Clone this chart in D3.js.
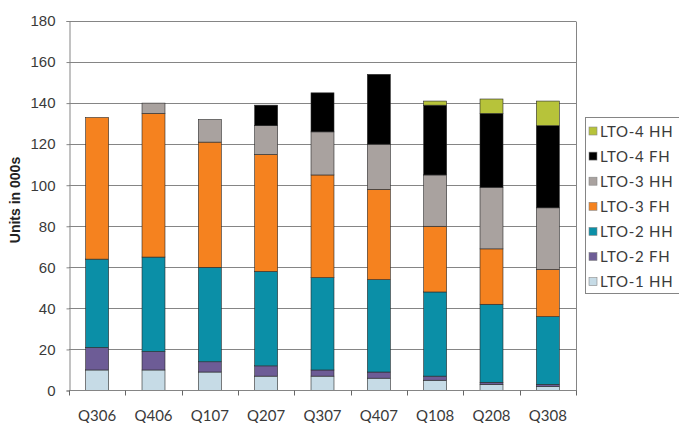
<!DOCTYPE html>
<html><head><meta charset="utf-8">
<script src="https://cdn.jsdelivr.net/npm/d3@7"></script>
<style>body{margin:0;background:#fff}svg{display:block}</style>
</head><body>
<svg id="c" width="679" height="423"></svg>
<script>
const categories = ["Q306","Q406","Q107","Q207","Q307","Q407","Q108","Q208","Q308"];
const seriesNames = ["LTO-1 HH","LTO-2 FH","LTO-2 HH","LTO-3 FH","LTO-3 HH","LTO-4 FH","LTO-4 HH"];
const lto1HH = [10,10,9,7,7,6,5,3,2];
const lto2FH = [11,9,5,5,3,3,2,1,1];
const lto2HH = [43,46,46,46,45,45,41,38,33];
const lto3FH = [69,70,61,57,50,44,32,27,23];
const lto3HH = [0,5,11,14,21,22,25,30,30];
const lto4FH = [0,0,0,10,19,34,34,36,40];
const lto4HH = [0,0,0,0,0,0,2,7,12];
const yTicks = [0,20,40,60,80,100,120,140,160,180];
const colors = ["#c6dbe6","#6d5c96","#0b8fa7","#f5821f","#a9a29f","#000000","#b7c33a"];

const seriesValues = [lto1HH,lto2FH,lto2HH,lto3FH,lto3HH,lto4FH,lto4HH];
const rows = categories.map((c,i)=>{const r={cat:c}; seriesNames.forEach((s,k)=>r[s]=seriesValues[k][i]); return r;});
const stack = d3.stack().keys(seriesNames)(rows);

const svg = d3.select("#c");
const L=69, R=576, T=21, B=390.5;
const x = d3.scaleBand().domain(categories).range([L,R]).paddingInner(0.592).paddingOuter(0.296);
const y = d3.scaleLinear().domain([0,180]).range([B,T]);

// gridlines
svg.append("g").selectAll("line").data(yTicks.filter(d=>d>0)).join("line")
  .attr("x1",L).attr("x2",R).attr("y1",d=>Math.round(y(d))+0.5).attr("y2",d=>Math.round(y(d))+0.5)
  .attr("stroke","#858585").attr("stroke-width",1);
// right border
svg.append("line").attr("x1",R+0.5).attr("x2",R+0.5).attr("y1",Math.round(T)+0.5).attr("y2",B)
  .attr("stroke","#858585");

// bars
svg.append("g").selectAll("g").data(stack).join("g")
  .attr("fill",(d,i)=>colors[i])
  .selectAll("rect").data(d=>d.filter(s=>s[1]-s[0]>0)).join("rect")
  .attr("x",d=>x(d.data.cat)).attr("width",x.bandwidth())
  .attr("y",d=>y(d[1])).attr("height",d=>y(d[0])-y(d[1]))
  .attr("stroke","#2a2a2a").attr("stroke-width",0.6);

// y axis
const ya = svg.append("g").attr("transform",`translate(${L+0.5},0)`)
  .call(d3.axisLeft(y).tickValues(yTicks).tickSize(3).tickPadding(11));
ya.select(".domain").attr("stroke","#858585");
ya.selectAll(".tick line").attr("stroke","#858585");
ya.selectAll("text").attr("font-family","Liberation Sans, Arial, sans-serif").attr("font-size",15).attr("fill","#3a3a3a");

// x axis
svg.append("line").attr("x1",L).attr("x2",R+1).attr("y1",B).attr("y2",B).attr("stroke","#858585");
const bounds = d3.range(categories.length+1).map(i=>L + i*x.step());
svg.append("g").selectAll("line").data(bounds).join("line")
  .attr("x1",d=>Math.round(d)+0.5).attr("x2",d=>Math.round(d)+0.5).attr("y1",B).attr("y2",B+5)
  .attr("stroke","#666");
svg.append("g").selectAll("text").data(categories).join("text")
  .attr("x",d=>x(d)+x.bandwidth()/2).attr("y",421).attr("text-anchor","middle")
  .attr("font-family","Lato, sans-serif").attr("font-size",15).attr("fill","#3a3a3a").text(d=>d);

// y title
svg.append("text").attr("transform","translate(20,200) rotate(-90)").attr("text-anchor","middle")
  .attr("font-family","Liberation Sans, Arial, sans-serif").attr("font-weight","bold").attr("font-size",14)
  .attr("fill","#222").text("Units in 000s");

// legend
const lg = svg.append("g");
lg.append("rect").attr("x",585.5).attr("y",117.5).attr("width",100).attr("height",176)
  .attr("fill","#fff").attr("stroke","#858585");
const legendOrder = seriesNames.map((s,i)=>i).reverse();
const items = lg.selectAll("g.it").data(legendOrder).join("g").attr("class","it")
  .attr("transform",(d,j)=>`translate(589,${131 + j*25.1})`);
items.append("rect").attr("x",0).attr("y",-4).attr("width",8).attr("height",8)
  .attr("fill",d=>colors[d]).attr("stroke","#888").attr("stroke-width",0.6);
items.append("text").attr("x",11).attr("y",5.5).attr("font-family","Lato, sans-serif").attr("font-size",15)
  .attr("letter-spacing","0.7px").attr("fill","#3a3a3a").text(d=>seriesNames[d]);
</script>
</body></html>
